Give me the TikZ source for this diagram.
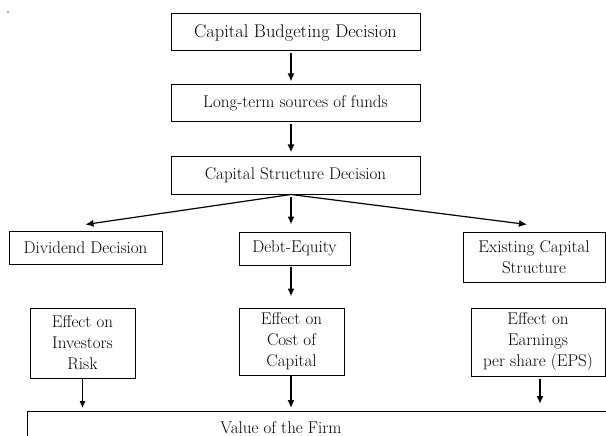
\documentclass[tikz,border=0pt]{standalone}
\usepackage{fontspec}
\usepackage{tikz}
\usetikzlibrary{arrows.meta, positioning, calc}

\begin{document}
\begin{tikzpicture}[x=1pt, y=-1pt,
    box/.style={draw, line width=1pt, align=center, inner sep=2pt, font=\fontsize{17}{21}\selectfont},
    flow/.style={-{Latex[length=8pt, width=7pt]}, line width=1.8pt},
    branch/.style={-{Latex[length=8pt, width=7pt]}, line width=1.2pt},
    feed/.style={-{Latex[length=7pt, width=6pt]}, line width=1pt}]
    % Page frame (the lower boxes run off the page)
    \useasboundingbox (0,0) rectangle (606,436);
    \clip (0,0) rectangle (606,436);
    \fill[gray!60] (7,11) rectangle (9,13);
    \coordinate (spine) at (291,0);

    % Main chain
    \node[box, minimum width=249pt, minimum height=37pt, font=\fontsize{18.4}{22}\selectfont] (budget) at (295.5,32.5) {Capital Budgeting Decision};
    \node[box, minimum width=249pt, minimum height=37pt] (funds) at (295.5,103.5) {Long-term sources of funds};
    \node[box, minimum width=249pt, minimum height=37pt] (structure) at (295.5,175.5) {Capital Structure Decision};

    % Second row
    \node[box, minimum width=153pt, minimum height=33pt] (dividend) at (85.5,247.5) {Dividend Decision};
    \node[box, minimum width=111pt, minimum height=33pt] (debt) at (294.5,248.5) {Debt-Equity};
    \node[box, minimum width=142pt, minimum height=50pt] (existing) at (534,257) {Existing Capital\\Structure};

    % Effects
    \node[box, minimum width=105pt, minimum height=70pt] (risk) at (82.5,343) {Effect on\\Investors\\Risk};
    \node[box, minimum width=105pt, minimum height=67pt] (cost) at (291.5,341.5) {Effect on\\Cost of\\Capital};
    \node[box, minimum width=134pt, minimum height=68pt] (eps) at (538,342) {Effect on\\Earnings\\per share (EPS)};

    % Value of the firm
    \node[draw, line width=1pt, anchor=north west, minimum width=620pt, minimum height=45pt] (value) at (27,411) {};
    \node[font=\fontsize{17}{21}\selectfont] (valuetext) at (281,428) {Value of the Firm};

    % Arrows down the chain
    \draw[flow, shorten <=2pt, shorten >=3pt] (budget.south -| spine) -- (funds.north -| spine);
    \draw[flow, shorten <=2pt, shorten >=4pt] (funds.south -| spine) -- (structure.north -| spine);

    % Branches
    \draw[branch] (structure.south -| spine) -- ([yshift=6pt]dividend.north);
    \draw[branch] (structure.south -| spine) -- ([shift={(-7pt,7pt)}]existing.north);
    \draw[flow, shorten <=2pt, shorten >=7pt] (structure.south -| spine) -- (debt.north -| spine);
    \draw[flow, shorten <=1pt, shorten >=11pt] (debt.south -| spine) -- (cost.north -| spine);

    % Into the value of the firm
    \draw[feed, shorten >=3pt] (risk.south) -- (risk.south |- value.north);
    \draw[flow, shorten >=3pt] (cost.south -| spine) -- (value.north -| spine);
    \draw[flow, shorten <=2pt, shorten >=7pt] ([xshift=2pt]eps.south) -- ([xshift=2pt]eps.south |- value.north);
\end{tikzpicture}
\end{document}
